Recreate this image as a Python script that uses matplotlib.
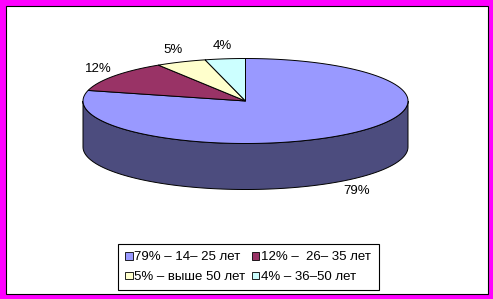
import numpy as np
import matplotlib.pyplot as plt
from matplotlib.patches import Polygon, Rectangle, Patch

plt.rcParams['font.family'] = ['Liberation Sans', 'DejaVu Sans']

# data
values = [79, 12, 5, 4]
pct_labels = ['79%', '12%', '5%', '4%']
legend_labels = ['79% – 14– 25 лет', '12% –  26– 35 лет',
                 '5% – выше 50 лет', '4% – 36–50 лет']
top_colors = ['#9999FF', '#993366', '#FFFFCC', '#CCFFFF']
side_colors = ['#4C4C7E', '#4D1A33', '#808066', '#668080']

# pie geometry (pixels)
cx, cy = 245.5, 101
rx, ry = 162.5, 42.5
depth = 46


def pt(t, dy=0.0):
    t = np.radians(t)
    return cx + rx * np.cos(t), cy - ry * np.sin(t) + dy


fig = plt.figure(figsize=(4.93, 2.99), dpi=100)
fig.patch.set_facecolor('#FF00FF')
ax = fig.add_axes([0, 0, 1, 1])
ax.set_xlim(0, 493)
ax.set_ylim(299, 0)
ax.axis('off')

ax.add_patch(Rectangle((5.5, 5.5), 482, 288, facecolor='white',
                       edgecolor='black', lw=0.8, zorder=0))

total = sum(values)
angles = []
start = 90.0
for v in values:
    end = start - v / total * 360
    angles.append((end, start))
    start = end

# side walls (front half only)
for (a1, a2), col in zip(angles, side_colors):
    for lo, hi in [(-180, 0), (180, 360), (-540, -360)]:
        s, e = max(a1, lo), min(a2, hi)
        if e <= s:
            continue
        t = np.linspace(s, e, 100)
        top = [pt(a) for a in t]
        bot = [pt(a, depth) for a in t[::-1]]
        ax.add_patch(Polygon(top + bot, closed=True, facecolor=col,
                             edgecolor='black', lw=0.7, zorder=1))

# top face
for (a1, a2), col in zip(angles, top_colors):
    t = np.linspace(a1, a2, 200)
    verts = [(cx, cy)] + [pt(a) for a in t]
    ax.add_patch(Polygon(verts, closed=True, facecolor=col,
                         edgecolor='black', lw=0.7, zorder=2))

# percentage labels
for (a1, a2), lab in zip(angles, pct_labels):
    m = np.radians((a1 + a2) / 2)
    lx = cx + rx * 1.12 * np.cos(m)
    ly = cy - ry * 1.3 * np.sin(m) + (depth if np.sin(m) < 0 else 0)
    ax.text(lx, ly, lab, fontsize=9.5, ha='center', va='center', zorder=3)

# legend: rows 79/12 and 5/4 (matplotlib fills column-wise)
handles = [Patch(facecolor=c, edgecolor='black', lw=0.6) for c in top_colors]
order = [0, 2, 1, 3]
leg = ax.legend([handles[i] for i in order], [legend_labels[i] for i in order],
                ncol=2, loc='upper left',
                bbox_to_anchor=(118, 244), bbox_transform=ax.transData,
                borderaxespad=0, fontsize=9.5, fancybox=False,
                edgecolor='black', framealpha=1, handlelength=0.55,
                handleheight=0.55, handletextpad=0.15, columnspacing=0.5,
                borderpad=0.55, labelspacing=0.6)
leg.get_frame().set_linewidth(0.8)

fig.savefig('out.png', dpi=100, facecolor=fig.get_facecolor())
